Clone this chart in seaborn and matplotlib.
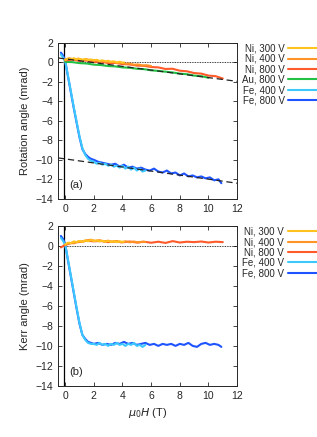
import numpy as np
import pandas as pd
import matplotlib
matplotlib.use('Agg')
import matplotlib.pyplot as plt
import seaborn as sns

# ---- data ----
# (a) rotation angle
ni300_x = [0.0, 0.2, 0.4, 0.6, 0.8, 1.0, 1.2, 1.4, 1.6, 1.8, 2.0, 2.2, 2.4, 2.6, 2.8, 3.0, 3.2, 3.4, 3.6, 3.8, 4.0, 4.1]
ni300_y = [0.25, 0.38, 0.30, 0.42, 0.30, 0.36, 0.26, 0.34, 0.22, 0.30, 0.18, 0.26, 0.14, 0.20, 0.10, 0.16, 0.04, 0.10, 0.00, 0.06, -0.04, 0.00]
ni400_x = [0.0, 0.3, 0.6, 0.9, 1.2, 1.5, 1.8, 2.1, 2.4, 2.7, 3.0, 3.3, 3.6, 3.9, 4.2, 4.5, 4.8, 5.1, 5.4, 5.7, 6.0]
ni400_y = [0.30, 0.42, 0.28, 0.38, 0.24, 0.32, 0.20, 0.24, 0.10, 0.14, 0.02, 0.06, -0.06, -0.04, -0.14, -0.12, -0.24, -0.22, -0.32, -0.30, -0.38]
ni800_x = [0.0, 0.5, 1.0, 1.5, 2.0, 2.5, 3.0, 3.5, 4.0, 4.5, 5.0, 5.5, 6.0, 6.5, 7.0, 7.5, 8.0, 8.5, 9.0, 9.5, 10.0, 10.5, 11.0]
ni800_y = [0.20, 0.28, 0.15, 0.18, 0.02, 0.08, -0.08, -0.06, -0.18, -0.22, -0.34, -0.36, -0.48, -0.52, -0.68, -0.66, -0.86, -0.92, -1.10, -1.16, -1.36, -1.42, -1.66]
au800_x = [0.0, 0.5, 1.0, 1.5, 2.0, 2.5, 3.0, 3.5, 4.0, 4.5, 5.0, 5.5, 6.0, 6.5, 7.0, 7.5, 8.0, 8.5, 9.0, 9.5, 10.0]
au800_y = [0.05, 0.02, -0.08, -0.12, -0.24, -0.28, -0.38, -0.42, -0.52, -0.56, -0.66, -0.70, -0.82, -0.88, -0.96, -1.04, -1.16, -1.22, -1.36, -1.42, -1.58]
fe400a_x = [-0.3, -0.15, 0.0, 0.2, 0.4, 0.6, 0.8, 1.0, 1.2, 1.4, 1.6, 1.8, 2.0, 2.2, 2.4, 2.6, 2.8, 3.0, 3.2, 3.4, 3.6, 3.8, 4.0, 4.2, 4.4, 4.6, 4.8, 5.0, 5.2, 5.4, 5.6]
fe400a_y = [0.8, 0.5, 0.1, -1.4, -3.0, -4.6, -6.1, -7.6, -8.8, -9.5, -9.9, -10.1, -10.2, -10.4, -10.3, -10.5, -10.4, -10.6, -10.5, -10.7, -10.6, -10.8, -10.6, -10.9, -10.7, -11.0, -10.8, -11.1, -10.9, -11.2, -11.1]
fe800a_x = [-0.3, -0.15, 0.0, 0.2, 0.4, 0.6, 0.8, 1.0, 1.2, 1.4, 1.6, 1.8, 2.0, 2.3, 2.6, 2.9, 3.2, 3.5, 3.8, 4.1, 4.4, 4.7, 5.0, 5.3, 5.6, 5.9, 6.2, 6.5, 6.8, 7.1, 7.4, 7.7, 8.0, 8.3, 8.6, 8.9, 9.2, 9.5, 9.8, 10.1, 10.4, 10.7, 10.9]
fe800a_y = [1.0, 0.7, 0.2, -1.5, -3.1, -4.7, -6.2, -7.7, -8.9, -9.4, -9.7, -9.9, -10.0, -10.2, -10.3, -10.4, -10.5, -10.4, -10.7, -10.5, -10.8, -10.7, -10.9, -10.8, -11.0, -11.1, -10.9, -11.2, -11.3, -11.1, -11.4, -11.3, -11.6, -11.4, -11.7, -11.6, -11.8, -11.7, -11.9, -11.8, -12.1, -12.0, -12.4]
fit_x = [-0.5, 12.0]
fit1_y = [0.45, -1.95]
fit2_y = [-9.8, -12.4]

# (b) Kerr angle
ni300b_x = [0.0, 0.2, 0.4, 0.6, 0.8, 1.0, 1.2, 1.4, 1.6, 1.8, 2.0, 2.2, 2.4, 2.6, 2.8, 3.0, 3.2, 3.4, 3.6, 3.8, 4.0, 4.1]
ni300b_y = [0.15, 0.32, 0.28, 0.45, 0.38, 0.50, 0.42, 0.56, 0.46, 0.60, 0.48, 0.56, 0.44, 0.52, 0.42, 0.50, 0.40, 0.48, 0.38, 0.46, 0.40, 0.42]
ni400b_x = [0.0, 0.3, 0.6, 0.9, 1.2, 1.5, 1.8, 2.1, 2.4, 2.7, 3.0, 3.3, 3.6, 3.9, 4.2, 4.5, 4.8, 5.1, 5.4, 5.6]
ni400b_y = [0.10, 0.30, 0.26, 0.44, 0.40, 0.56, 0.62, 0.50, 0.58, 0.44, 0.52, 0.40, 0.48, 0.36, 0.46, 0.36, 0.44, 0.34, 0.42, 0.38]
ni800b_x = [-0.3, 0.0, 0.5, 1.0, 1.5, 2.0, 2.5, 3.0, 3.5, 4.0, 4.5, 5.0, 5.5, 6.0, 6.5, 7.0, 7.5, 8.0, 8.5, 9.0, 9.5, 10.0, 10.5, 11.0]
ni800b_y = [-0.15, 0.10, 0.32, 0.40, 0.52, 0.46, 0.50, 0.38, 0.46, 0.36, 0.44, 0.34, 0.42, 0.32, 0.42, 0.30, 0.48, 0.34, 0.42, 0.38, 0.44, 0.34, 0.42, 0.38]
fe400b_x = [-0.3, -0.15, 0.0, 0.2, 0.4, 0.6, 0.8, 1.0, 1.2, 1.4, 1.6, 1.8, 2.0, 2.2, 2.4, 2.6, 2.8, 3.0, 3.2, 3.4, 3.6, 3.8, 4.0, 4.2, 4.4, 4.6, 4.8, 5.0, 5.2, 5.4, 5.6]
fe400b_y = [0.8, 0.5, 0.1, -1.4, -3.0, -4.6, -6.2, -7.7, -8.9, -9.4, -9.7, -9.8, -9.8, -9.9, -9.7, -9.9, -9.8, -10.0, -9.8, -9.9, -9.7, -9.9, -9.8, -10.0, -9.8, -9.9, -9.7, -10.0, -9.9, -10.1, -9.9]
fe800b_x = [-0.3, -0.15, 0.0, 0.2, 0.4, 0.6, 0.8, 1.0, 1.2, 1.4, 1.6, 1.8, 2.0, 2.3, 2.6, 2.9, 3.2, 3.5, 3.8, 4.1, 4.4, 4.7, 5.0, 5.3, 5.6, 5.9, 6.2, 6.5, 6.8, 7.1, 7.4, 7.7, 8.0, 8.3, 8.6, 8.9, 9.2, 9.5, 9.8, 10.1, 10.4, 10.7, 10.9]
fe800b_y = [1.0, 0.7, 0.2, -1.5, -3.1, -4.7, -6.3, -7.8, -8.9, -9.3, -9.6, -9.7, -9.8, -9.7, -9.9, -9.8, -9.9, -9.7, -9.8, -9.6, -9.8, -9.7, -9.9, -9.8, -9.7, -9.9, -9.8, -10.0, -9.8, -9.9, -9.8, -10.0, -9.8, -9.9, -9.7, -10.0, -10.1, -9.8, -9.7, -9.9, -9.8, -9.9, -10.1]

colors = {'Ni, 300 V': '#ffc21e', 'Ni, 400 V': '#ff9326', 'Ni, 800 V': '#ff5a2a',
          'Au, 800 V': '#22c044', 'Fe, 400 V': '#3cc8ff', 'Fe, 800 V': '#1e54ff'}

panel_a = [('Ni, 300 V', ni300_x, ni300_y), ('Ni, 400 V', ni400_x, ni400_y),
           ('Ni, 800 V', ni800_x, ni800_y), ('Au, 800 V', au800_x, au800_y),
           ('Fe, 400 V', fe400a_x, fe400a_y), ('Fe, 800 V', fe800a_x, fe800a_y)]
panel_b = [('Ni, 300 V', ni300b_x, ni300b_y), ('Ni, 400 V', ni400b_x, ni400b_y),
           ('Ni, 800 V', ni800b_x, ni800b_y),
           ('Fe, 400 V', fe400b_x, fe400b_y), ('Fe, 800 V', fe800b_x, fe800b_y)]

sns.set_style('ticks')
plt.rcParams['font.family'] = ['Liberation Sans', 'DejaVu Sans']
plt.rcParams['font.size'] = 7.5

fig = plt.figure(figsize=(3.17, 4.37), dpi=100)
ax1 = fig.add_axes([0.183, 0.545, 0.565, 0.357])
ax2 = fig.add_axes([0.183, 0.117, 0.565, 0.366])


def draw(ax, series, label, tag, fits):
    ax.axhline(0, color='black', lw=0.6, ls=(0, (1, 1)), zorder=1)
    ax.axvline(-0.1, color='black', lw=0.9, zorder=1)
    # reverse order so Ni 300 / Fe 400 end up on top
    for name, xs, ys in series[::-1]:
        sns.lineplot(x=xs, y=ys, color=colors[name], lw=1.5, ax=ax,
                     estimator=None, sort=False, label=name)
    for fy in fits:
        sns.lineplot(x=fit_x, y=fy, color='#222222', lw=0.9, ax=ax,
                     linestyle=(0, (5, 3)), estimator=None, sort=False)
    ax.set_xlim(-0.5, 12)
    ax.set_ylim(-14, 2)
    ax.set_xticks(range(0, 13, 2))
    ax.set_yticks(range(-14, 3, 2))
    ax.tick_params(direction='in', top=True, right=True, length=3, width=0.6, labelsize=7.5)
    for s in ax.spines.values():
        s.set_linewidth(0.7)
    ax.set_ylabel(label, fontsize=8)
    ax.text(0.25, -12.6, tag, fontsize=8, va='center')
    h, l = ax.get_legend_handles_labels()
    ax.legend(h[::-1], l[::-1], loc='upper left', bbox_to_anchor=(1.005, 1.02), frameon=False,
              markerfirst=False, fontsize=7, handlelength=3.0, handletextpad=0.4,
              labelspacing=0.04, borderaxespad=0)


draw(ax1, panel_a, 'Rotation angle (mrad)', '(a)', [fit1_y, fit2_y])
draw(ax2, panel_b, 'Kerr angle (mrad)', '(b)', [])
ax2.set_xlabel(r'$\mu_0H$ (T)', fontsize=8)

fig.savefig('out.png', dpi=100)
